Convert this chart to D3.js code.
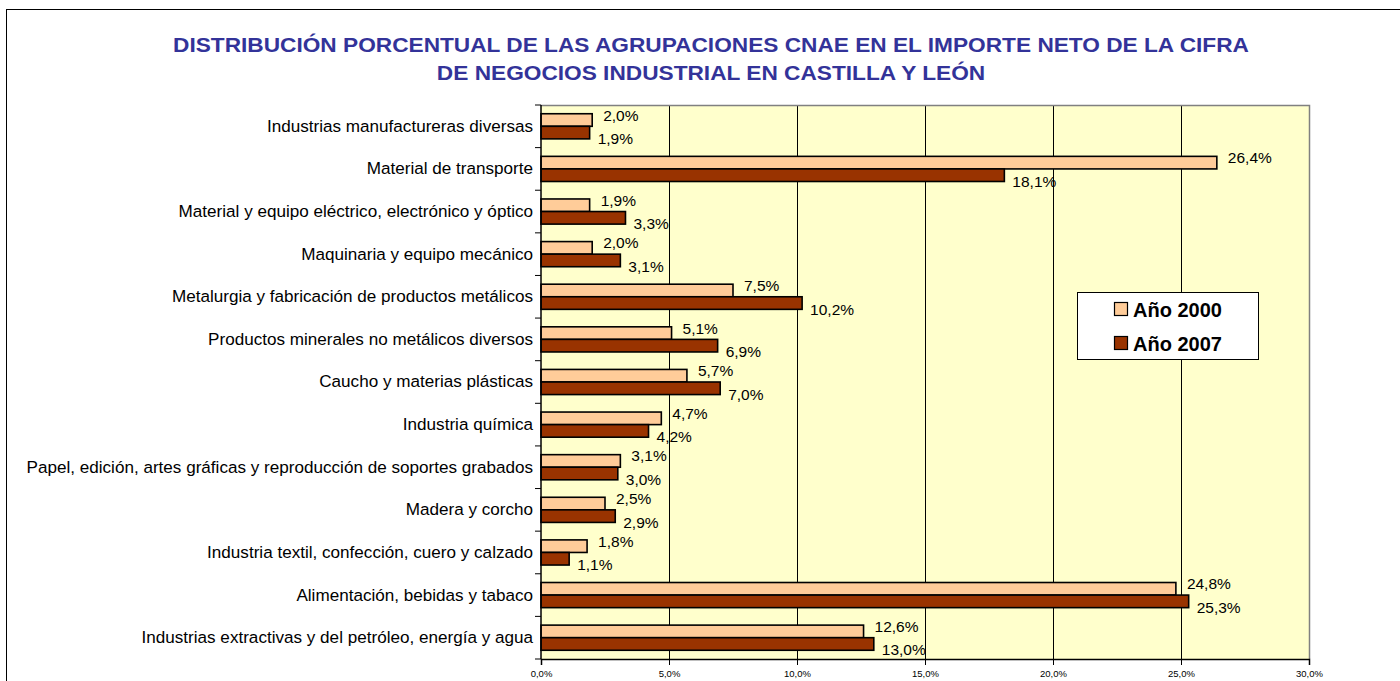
<!DOCTYPE html>
<html><head><meta charset="utf-8">
<script src="https://cdn.jsdelivr.net/npm/d3@7"></script>
<style>body{margin:0;background:#fff;} text{font-family:"Liberation Sans",Arial,sans-serif;}</style>
</head><body>
<svg id="c" width="1400" height="681"></svg>
<script>
const titleLines = ["DISTRIBUCIÓN PORCENTUAL DE LAS AGRUPACIONES CNAE EN EL IMPORTE NETO DE LA CIFRA",
                    "DE NEGOCIOS INDUSTRIAL EN CASTILLA Y LEÓN"];
const categories = [
  "Industrias manufactureras diversas",
  "Material de transporte",
  "Material y equipo eléctrico, electrónico y óptico",
  "Maquinaria y equipo mecánico",
  "Metalurgia y fabricación de productos metálicos",
  "Productos minerales no metálicos diversos",
  "Caucho y materias plásticas",
  "Industria química",
  "Papel, edición, artes gráficas y reproducción de soportes grabados",
  "Madera y corcho",
  "Industria textil, confección, cuero y calzado",
  "Alimentación, bebidas y tabaco",
  "Industrias extractivas y del petróleo, energía y agua"
];
const values2000 = [2.0, 26.4, 1.9, 2.0, 7.5, 5.1, 5.7, 4.7, 3.1, 2.5, 1.8, 24.8, 12.6];
const values2007 = [1.9, 18.1, 3.3, 3.1, 10.2, 6.9, 7.0, 4.2, 3.0, 2.9, 1.1, 25.3, 13.0];
const seriesNames = ["Año 2000", "Año 2007"];
const xTicks = [0, 5, 10, 15, 20, 25, 30];

const colors = ["#FFCC99", "#993300"];
const svg = d3.select("#c");
const m = {left: 541, right: 1309, top: 105, bottom: 659};

// outer border
svg.append("rect").attr("x", 6.5).attr("y", 9.5).attr("width", 1420).attr("height", 700)
  .attr("fill", "none").attr("stroke", "#000").attr("stroke-width", 1);

// title (stretched horizontally like the original)
const titleSX = 1.08;
svg.append("g").attr("transform", `translate(711,0) scale(${titleSX},1)`)
  .selectAll("text").data(titleLines).join("text")
  .attr("x", 0).attr("y", (d, i) => 52 + i * 28)
  .attr("text-anchor", "middle").attr("font-size", 21).attr("font-weight", "bold")
  .attr("fill", "#333399").text(d => d);

const x = d3.scaleLinear().domain([0, 30]).range([m.left, m.right]);
const y = d3.scaleBand().domain(categories).range([m.top, m.bottom]).padding(0);
const bw = y.bandwidth();
const barH = bw * 0.295;

// plot background
svg.append("rect").attr("x", m.left).attr("y", m.top).attr("width", m.right - m.left)
  .attr("height", m.bottom - m.top).attr("fill", "#FFFFCC");

// grid
svg.append("g").selectAll("line").data(xTicks.filter(t => t > 0 && t < 30)).join("line")
  .attr("x1", d => x(d) + 0.5).attr("x2", d => x(d) + 0.5)
  .attr("y1", m.top).attr("y2", m.bottom).attr("stroke", "#000").attr("stroke-width", 1);

// plot border (top/right gray)
svg.append("path").attr("d", `M${m.left},${m.top + 0.5}H${m.right + 0.5}V${m.bottom}`)
  .attr("fill", "none").attr("stroke", "#808080").attr("stroke-width", 1.5);

// bars
const data = categories.map((c, i) => ({c, v: [values2000[i], values2007[i]]}));
const fmt = v => d3.format(".1f")(v).replace(".", ",") + "%";
const g = svg.append("g");
data.forEach(d => {
  const cy = y(d.c) + bw / 2;
  d.v.forEach((v, s) => {
    const top = s === 0 ? cy - barH : cy;
    g.append("rect").attr("x", x(0)).attr("y", top).attr("width", x(v) - x(0)).attr("height", barH)
      .attr("fill", colors[s]).attr("stroke", "#000").attr("stroke-width", 1.6);
    g.append("text").attr("x", x(v) + (s === 0 ? 11 : 8))
      .attr("y", s === 0 ? cy - barH / 2 - 5 : cy + barH / 2 + 6)
      .attr("dominant-baseline", "central").attr("font-size", 15.5).attr("fill", "#000")
      .text(fmt(v));
  });
});

// y axis
const yAxis = d3.axisLeft(y).tickSize(0).tickPadding(8);
const ya = svg.append("g").attr("transform", `translate(${m.left},0)`).call(yAxis);
ya.select(".domain").remove();
ya.selectAll("text").attr("font-size", 17.1).attr("fill", "#000").attr("font-family", "Liberation Sans, Arial, sans-serif");
// band boundary ticks
const bounds = categories.map(c => y(c)).concat([m.bottom]);
svg.append("g").selectAll("line").data(bounds).join("line")
  .attr("x1", m.left - 6).attr("x2", m.left).attr("y1", d => d).attr("y2", d => d)
  .attr("stroke", "#000").attr("stroke-width", 1);
svg.append("line").attr("x1", m.left).attr("x2", m.left).attr("y1", m.top).attr("y2", m.bottom)
  .attr("stroke", "#000").attr("stroke-width", 1.5);

// x axis
const xAxis = d3.axisBottom(x).tickValues(xTicks).tickSize(6).tickPadding(5)
  .tickFormat(d => d3.format(".1f")(d).replace(".", ",") + "%");
const xa = svg.append("g").attr("transform", `translate(0,${m.bottom})`).call(xAxis);
xa.select(".domain").attr("stroke", "#000").attr("stroke-width", 1.5);
xa.selectAll(".tick line").attr("stroke", "#000");
xa.selectAll("text").attr("font-size", 9.5).attr("fill", "#000").attr("font-family", "Liberation Sans, Arial, sans-serif");

// legend
const lg = svg.append("g");
lg.append("rect").attr("x", 1077.5).attr("y", 292.5).attr("width", 181).attr("height", 67)
  .attr("fill", "#fff").attr("stroke", "#000").attr("stroke-width", 1);
seriesNames.forEach((n, i) => {
  const cy = 309 + i * 34;
  lg.append("rect").attr("x", 1114.5).attr("y", cy - 6.5).attr("width", 13).attr("height", 13)
    .attr("fill", colors[i]).attr("stroke", "#000").attr("stroke-width", 1.2);
  lg.append("text").attr("x", 1133).attr("y", cy + 1).attr("dominant-baseline", "central")
    .attr("font-size", 20).attr("font-weight", "bold").attr("fill", "#000").text(n);
});
</script>
</body></html>
